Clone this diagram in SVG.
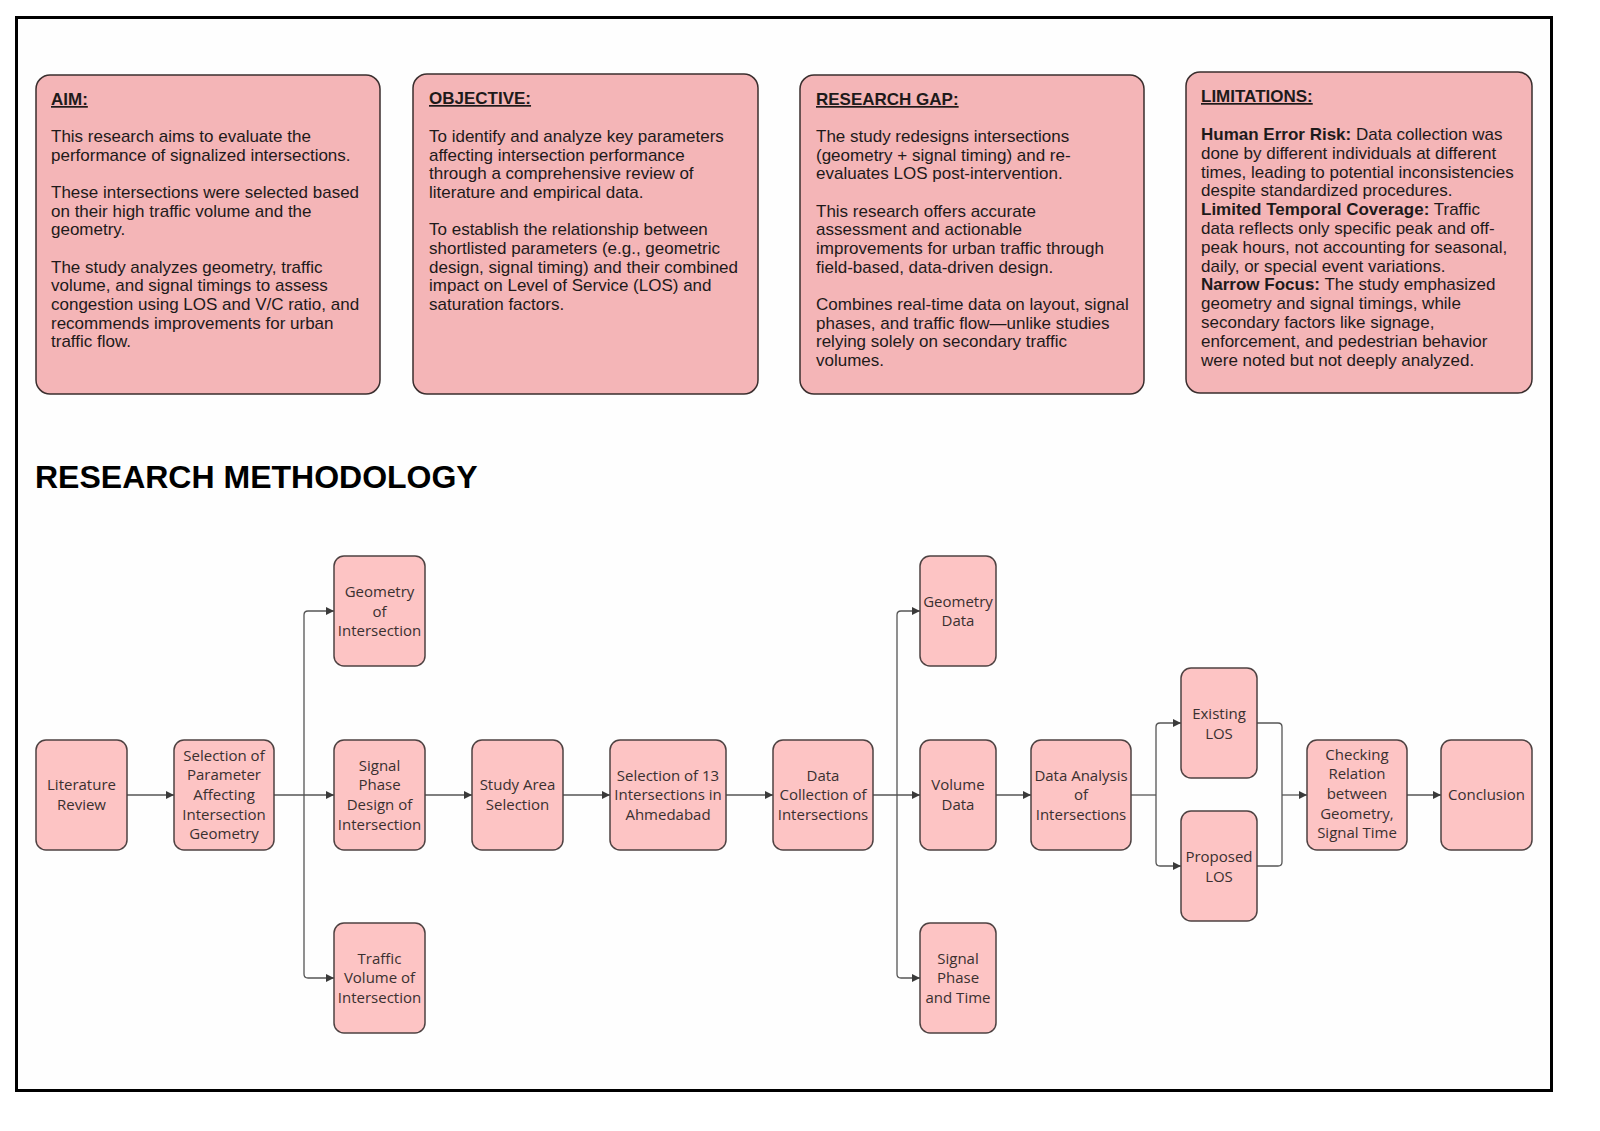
<svg xmlns="http://www.w3.org/2000/svg" width="1600" height="1131" viewBox="0 0 1600 1131">
<style>
.frame{fill:#fefefe;stroke:#000;stroke-width:3}
.card{fill:#f4b5b7;stroke:#3a2e2e;stroke-width:1.5}
.ct{font-family:"Liberation Sans",Arial,sans-serif;font-size:17px;fill:#1e1a1a}
.ch{font-weight:bold;text-decoration:underline}
.b{font-weight:bold}
.title{font-family:"Liberation Sans",Arial,sans-serif;font-size:32px;font-weight:bold;fill:#000}
.node{fill:#fdc4c4;stroke:#4e4242;stroke-width:1.5}
.nt{font-family:"Open Sans","Noto Sans",sans-serif;font-size:15px;fill:#3a3030;text-anchor:middle}
.conn{fill:none;stroke:#555;stroke-width:1.3}
</style>
<defs>
<marker id="arr" viewBox="0 0 8 8" refX="8" refY="4" markerWidth="8" markerHeight="8" markerUnits="userSpaceOnUse" orient="auto">
<path d="M0,0 L8,4 L0,8 z" fill="#3a3a3a"/>
</marker>
</defs>
<rect x="0" y="0" width="1600" height="1131" fill="#ffffff"/>
<rect class="frame" x="16.5" y="17.5" width="1535" height="1073"/>

<g id="aim">
<rect class="card" x="36" y="75" width="344" height="319" rx="14"/>
<text class="ct" x="51" y="105"><tspan class="ch">AIM:</tspan></text>
<text class="ct">
<tspan x="51" y="142">This research aims to evaluate the</tspan>
<tspan x="51" y="160.7">performance of signalized intersections.</tspan>
<tspan x="51" y="198">These intersections were selected based</tspan>
<tspan x="51" y="216.7">on their high traffic volume and the</tspan>
<tspan x="51" y="235.4">geometry.</tspan>
<tspan x="51" y="272.5">The study analyzes geometry, traffic</tspan>
<tspan x="51" y="291.2">volume, and signal timings to assess</tspan>
<tspan x="51" y="309.9">congestion using LOS and V/C ratio, and</tspan>
<tspan x="51" y="328.6">recommends improvements for urban</tspan>
<tspan x="51" y="347.3">traffic flow.</tspan>
</text>
</g>

<g id="objective">
<rect class="card" x="413" y="74" width="345" height="320" rx="14"/>
<text class="ct" x="429" y="104"><tspan class="ch">OBJECTIVE:</tspan></text>
<text class="ct">
<tspan x="429" y="142">To identify and analyze key parameters</tspan>
<tspan x="429" y="160.7">affecting intersection performance</tspan>
<tspan x="429" y="179.4">through a comprehensive review of</tspan>
<tspan x="429" y="198.1">literature and empirical data.</tspan>
<tspan x="429" y="235.2">To establish the relationship between</tspan>
<tspan x="429" y="253.9">shortlisted parameters (e.g., geometric</tspan>
<tspan x="429" y="272.6">design, signal timing) and their combined</tspan>
<tspan x="429" y="291.3">impact on Level of Service (LOS) and</tspan>
<tspan x="429" y="310">saturation factors.</tspan>
</text>
</g>

<g id="research-gap">
<rect class="card" x="800" y="75" width="344" height="319" rx="14"/>
<text class="ct" x="816" y="105"><tspan class="ch">RESEARCH GAP:</tspan></text>
<text class="ct">
<tspan x="816" y="142">The study redesigns intersections</tspan>
<tspan x="816" y="160.7">(geometry + signal timing) and re-</tspan>
<tspan x="816" y="179.4">evaluates LOS post-intervention.</tspan>
<tspan x="816" y="216.6">This research offers accurate</tspan>
<tspan x="816" y="235.3">assessment and actionable</tspan>
<tspan x="816" y="254">improvements for urban traffic through</tspan>
<tspan x="816" y="272.7">field-based, data-driven design.</tspan>
<tspan x="816" y="309.9">Combines real-time data on layout, signal</tspan>
<tspan x="816" y="328.6">phases, and traffic flow—unlike studies</tspan>
<tspan x="816" y="347.3">relying solely on secondary traffic</tspan>
<tspan x="816" y="366">volumes.</tspan>
</text>
</g>

<g id="limitations">
<rect class="card" x="1186" y="72" width="346" height="321" rx="14"/>
<text class="ct" x="1201" y="102"><tspan class="ch">LIMITATIONS:</tspan></text>
<text class="ct">
<tspan x="1201" y="140"><tspan class="b">Human Error Risk:</tspan> Data collection was</tspan>
<tspan x="1201" y="158.8">done by different individuals at different</tspan>
<tspan x="1201" y="177.6">times, leading to potential inconsistencies</tspan>
<tspan x="1201" y="196.4">despite standardized procedures.</tspan>
<tspan x="1201" y="215.2"><tspan class="b">Limited Temporal Coverage:</tspan> Traffic</tspan>
<tspan x="1201" y="234">data reflects only specific peak and off-</tspan>
<tspan x="1201" y="252.8">peak hours, not accounting for seasonal,</tspan>
<tspan x="1201" y="271.6">daily, or special event variations.</tspan>
<tspan x="1201" y="290.4"><tspan class="b">Narrow Focus:</tspan> The study emphasized</tspan>
<tspan x="1201" y="309.2">geometry and signal timings, while</tspan>
<tspan x="1201" y="328">secondary factors like signage,</tspan>
<tspan x="1201" y="346.8">enforcement, and pedestrian behavior</tspan>
<tspan x="1201" y="365.6">were noted but not deeply analyzed.</tspan>
</text>
</g>

<text class="title" x="35" y="488">RESEARCH METHODOLOGY</text>

<g id="connectors">
<path class="conn" d="M127,795 H174" marker-end="url(#arr)"/>
<path class="conn" d="M274,795 H334" marker-end="url(#arr)"/>
<path class="conn" d="M304,795 V615 Q304,611 308,611 H334" marker-end="url(#arr)"/>
<path class="conn" d="M304,795 V974 Q304,978 308,978 H334" marker-end="url(#arr)"/>
<path class="conn" d="M425,795 H472" marker-end="url(#arr)"/>
<path class="conn" d="M563,795 H610" marker-end="url(#arr)"/>
<path class="conn" d="M726,795 H773" marker-end="url(#arr)"/>
<path class="conn" d="M873,795 H920" marker-end="url(#arr)"/>
<path class="conn" d="M897,795 V615 Q897,611 901,611 H920" marker-end="url(#arr)"/>
<path class="conn" d="M897,795 V974 Q897,978 901,978 H920" marker-end="url(#arr)"/>
<path class="conn" d="M996,795 H1031" marker-end="url(#arr)"/>
<path class="conn" d="M1131,795 H1156"/>
<path class="conn" d="M1156,795 V727 Q1156,723 1160,723 H1181" marker-end="url(#arr)"/>
<path class="conn" d="M1156,795 V862 Q1156,866 1160,866 H1181" marker-end="url(#arr)"/>
<path class="conn" d="M1257,723 H1278 Q1282,723 1282,727 V795"/>
<path class="conn" d="M1257,866 H1278 Q1282,866 1282,862 V795"/>
<path class="conn" d="M1282,795 H1307" marker-end="url(#arr)"/>
<path class="conn" d="M1407,795 H1441" marker-end="url(#arr)"/>
</g>

<g id="literature-review">
<rect class="node" x="36" y="740" width="91" height="110" rx="10"/>
<text class="nt"><tspan x="81.5" y="790">Literature</tspan><tspan x="81.5" y="809.7">Review</tspan></text>
</g>
<g id="selection-parameter">
<rect class="node" x="174" y="740" width="100" height="110" rx="10"/>
<text class="nt"><tspan x="224" y="760.5">Selection of</tspan><tspan x="224" y="780.2">Parameter</tspan><tspan x="224" y="799.9">Affecting</tspan><tspan x="224" y="819.6">Intersection</tspan><tspan x="224" y="839.3">Geometry</tspan></text>
</g>
<g id="geometry-intersection">
<rect class="node" x="334" y="556" width="91" height="110" rx="10"/>
<text class="nt"><tspan x="379.5" y="597">Geometry</tspan><tspan x="379.5" y="616.7">of</tspan><tspan x="379.5" y="636.4">Intersection</tspan></text>
</g>
<g id="signal-phase-design">
<rect class="node" x="334" y="740" width="91" height="110" rx="10"/>
<text class="nt"><tspan x="379.5" y="770.5">Signal</tspan><tspan x="379.5" y="790.2">Phase</tspan><tspan x="379.5" y="809.9">Design of</tspan><tspan x="379.5" y="829.6">Intersection</tspan></text>
</g>
<g id="traffic-volume">
<rect class="node" x="334" y="923" width="91" height="110" rx="10"/>
<text class="nt"><tspan x="379.5" y="963.5">Traffic</tspan><tspan x="379.5" y="983.2">Volume of</tspan><tspan x="379.5" y="1002.9">Intersection</tspan></text>
</g>
<g id="study-area">
<rect class="node" x="472" y="740" width="91" height="110" rx="10"/>
<text class="nt"><tspan x="517.5" y="790">Study Area</tspan><tspan x="517.5" y="809.7">Selection</tspan></text>
</g>
<g id="selection-13">
<rect class="node" x="610" y="740" width="116" height="110" rx="10"/>
<text class="nt"><tspan x="668" y="780.5">Selection of 13</tspan><tspan x="668" y="800.2">Intersections in</tspan><tspan x="668" y="819.9">Ahmedabad</tspan></text>
</g>
<g id="data-collection">
<rect class="node" x="773" y="740" width="100" height="110" rx="10"/>
<text class="nt"><tspan x="823" y="780.5">Data</tspan><tspan x="823" y="800.2">Collection of</tspan><tspan x="823" y="819.9">Intersections</tspan></text>
</g>
<g id="geometry-data">
<rect class="node" x="920" y="556" width="76" height="110" rx="10"/>
<text class="nt"><tspan x="958" y="606.5">Geometry</tspan><tspan x="958" y="626.2">Data</tspan></text>
</g>
<g id="volume-data">
<rect class="node" x="920" y="740" width="76" height="110" rx="10"/>
<text class="nt"><tspan x="958" y="790">Volume</tspan><tspan x="958" y="809.7">Data</tspan></text>
</g>
<g id="signal-phase-time">
<rect class="node" x="920" y="923" width="76" height="110" rx="10"/>
<text class="nt"><tspan x="958" y="963.5">Signal</tspan><tspan x="958" y="983.2">Phase</tspan><tspan x="958" y="1002.9">and Time</tspan></text>
</g>
<g id="data-analysis">
<rect class="node" x="1031" y="740" width="100" height="110" rx="10"/>
<text class="nt"><tspan x="1081" y="780.5">Data Analysis</tspan><tspan x="1081" y="800.2">of</tspan><tspan x="1081" y="819.9">Intersections</tspan></text>
</g>
<g id="existing-los">
<rect class="node" x="1181" y="668" width="76" height="110" rx="10"/>
<text class="nt"><tspan x="1219" y="719">Existing</tspan><tspan x="1219" y="738.7">LOS</tspan></text>
</g>
<g id="proposed-los">
<rect class="node" x="1181" y="811" width="76" height="110" rx="10"/>
<text class="nt"><tspan x="1219" y="862">Proposed</tspan><tspan x="1219" y="881.7">LOS</tspan></text>
</g>
<g id="checking-relation">
<rect class="node" x="1307" y="740" width="100" height="110" rx="10"/>
<text class="nt"><tspan x="1357" y="759.5">Checking</tspan><tspan x="1357" y="779.2">Relation</tspan><tspan x="1357" y="798.9">between</tspan><tspan x="1357" y="818.6">Geometry,</tspan><tspan x="1357" y="838.3">Signal Time</tspan></text>
</g>
<g id="conclusion">
<rect class="node" x="1441" y="740" width="91" height="110" rx="10"/>
<text class="nt"><tspan x="1486.5" y="800">Conclusion</tspan></text>
</g>
</svg>
